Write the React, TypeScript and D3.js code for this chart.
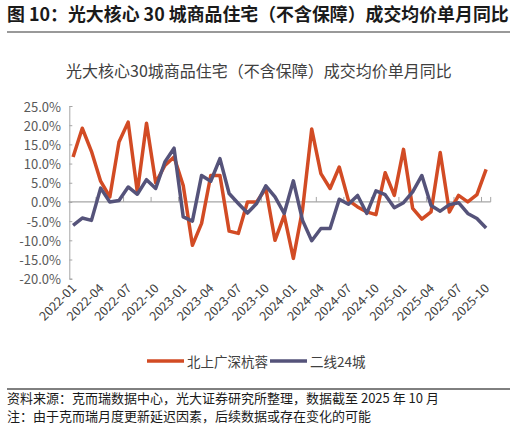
import React, { useEffect, useRef } from 'react';
import * as d3 from 'd3';

// months 2022-01 .. 2025-10
const months: string[] = d3
  .timeMonths(new Date(2022, 0, 1), new Date(2025, 10, 1))
  .map(d3.timeFormat('%Y-%m'));

// 北上广深杭蓉, %
const tier1: number[] = [
  11.7, 19.2, 13.2, 5.4, 1.3, 15.6, 20.8, 2.6, 20.5, 5.0, 9.5, 11.7,
  4.3, -11.3, -5.6, 6.9, 6.9, -7.6, -8.2, 0.0, 0.0, 3.5, -10.0, -3.5,
  -14.7, -2.0, 19.0, 7.4, 3.5, 9.1, 0.4, -1.3, -2.6, -3.3, 7.6, 1.7,
  13.7, -1.7, -4.5, -2.6, 12.9, -2.6, 1.7, 0.0, 1.9, 8.5
];

// 二线24城, %
const tier2: number[] = [
  -6.1, -4.2, -4.8, 3.6, 0.0, 0.4, 3.9, 2.0, 5.8, 3.5, 10.4, 14.0,
  -3.9, -5.0, 6.9, 5.4, 11.3, 2.2, -0.4, -2.9, -0.4, 4.2, 1.3, -3.0,
  5.5, -4.8, -10.1, -6.9, -6.9, 0.7, -0.6, 1.7, -3.0, 2.9, 1.9, -1.5,
  -0.2, 2.6, 6.9, -0.9, -2.4, -0.7, -0.2, -3.0, -4.3, -6.8
];

const seriesNames = ['北上广深杭蓉', '二线24城'];
const seriesColors = ['#D24B24', '#55537A'];
const yTicks = [25, 20, 15, 10, 5, 0, -5, -10, -15, -20];

const FONT = '"Noto Sans CJK SC", "Noto Sans", sans-serif';

export default function App() {
  const ref = useRef<SVGSVGElement>(null);

  useEffect(() => {
    const svg = d3.select(ref.current);
    svg.selectAll('*').remove();

    const x = d3.scaleBand<string>().domain(months).range([68.5, 490.7]);
    const y = d3.scaleLinear().domain([-20, 25]).range([278.7, 106]);
    const cx = (m: string) => (x(m) as number) + x.bandwidth() / 2;

    // header
    svg.append('text')
      .attr('x', 7).attr('y', 21)
      .style('font-family', FONT).style('font-size', '17.9px').style('font-weight', 'bold')
      .attr('fill', '#1a1a1a')
      .text('图 10：光大核心 30 城商品住宅（不含保障）成交均价单月同比');
    svg.append('line')
      .attr('x1', 7).attr('x2', 510).attr('y1', 32).attr('y2', 32)
      .attr('stroke', '#777').attr('stroke-width', 1.5);

    // chart title
    svg.append('text')
      .attr('x', 259).attr('y', 77).attr('text-anchor', 'middle')
      .style('font-family', FONT).style('font-size', '16px')
      .attr('fill', '#404040')
      .text('光大核心30城商品住宅（不含保障）成交均价单月同比');

    // y axis, ticks point into the plot
    const yAxis = svg.append('g').attr('transform', 'translate(69.3,0)')
      .call(d3.axisRight(y).tickValues(yTicks).tickSize(3).tickFormat(() => ''));
    yAxis.select('.domain').attr('stroke', '#a6a6a6');
    yAxis.selectAll('line').attr('stroke', '#a6a6a6');

    svg.append('g').selectAll('text').data(yTicks).enter().append('text')
      .attr('x', 61).attr('y', d => y(d))
      .attr('text-anchor', 'end').attr('dominant-baseline', 'central')
      .style('font-family', FONT).style('font-size', '13px')
      .attr('fill', '#595959')
      .text(d => d.toFixed(1) + '%');

    // x axis sits on zero
    const y0 = y(0);
    svg.append('line')
      .attr('x1', 68.5).attr('x2', 490.7).attr('y1', y0).attr('y2', y0)
      .attr('stroke', '#a6a6a6').attr('stroke-width', 1.2);
    const tickIdx = d3.range(0, months.length, 3);
    svg.append('g').selectAll('line').data(tickIdx.slice(1).concat([months.length]))
      .enter().append('line')
      .attr('x1', i => 68.5 + i * x.step())
      .attr('x2', i => 68.5 + i * x.step())
      .attr('y1', y0).attr('y2', y0 - 5)
      .attr('stroke', '#a6a6a6');

    svg.append('g').selectAll('text').data(tickIdx).enter().append('text')
      .attr('transform', i => `translate(${cx(months[i]) + 4},289) rotate(-45)`)
      .attr('text-anchor', 'end')
      .style('font-family', FONT).style('font-size', '12.5px')
      .attr('fill', '#404040')
      .text(i => months[i]);

    // series
    const line = d3.line<number>()
      .x((d, i) => cx(months[i]))
      .y(d => y(d));
    [tier1, tier2].forEach((s, k) => {
      svg.append('path')
        .datum(s)
        .attr('d', line)
        .attr('fill', 'none')
        .attr('stroke', seriesColors[k])
        .attr('stroke-width', 3.5)
        .attr('stroke-linejoin', 'round');
    });

    // legend
    const legendX = [147, 270];
    const lg = svg.append('g');
    seriesNames.forEach((n, k) => {
      lg.append('line')
        .attr('x1', legendX[k]).attr('x2', legendX[k] + 37)
        .attr('y1', 361).attr('y2', 361)
        .attr('stroke', seriesColors[k]).attr('stroke-width', 3.5);
      lg.append('text')
        .attr('x', legendX[k] + 40).attr('y', 361)
        .attr('dominant-baseline', 'central')
        .style('font-family', FONT).style('font-size', '13.5px')
        .attr('fill', '#404040')
        .text(n);
    });

    // footer
    svg.append('line')
      .attr('x1', 7).attr('x2', 510).attr('y1', 389).attr('y2', 389)
      .attr('stroke', '#000').attr('stroke-width', 1);
    svg.append('text')
      .attr('x', 7).attr('y', 403)
      .style('font-family', FONT).style('font-size', '13px')
      .attr('fill', '#1a1a1a')
      .text('资料来源：克而瑞数据中心，光大证券研究所整理，数据截至 2025 年 10 月');
    svg.append('text')
      .attr('x', 7).attr('y', 421)
      .style('font-family', FONT).style('font-size', '13px')
      .attr('fill', '#1a1a1a')
      .text('注：由于克而瑞月度更新延迟因素，后续数据或存在变化的可能');
  }, []);

  return (
    <svg ref={ref} width={516} height={427}
      style={{ position: 'absolute', left: 0, top: 0, background: '#fff' }} />
  );
}
